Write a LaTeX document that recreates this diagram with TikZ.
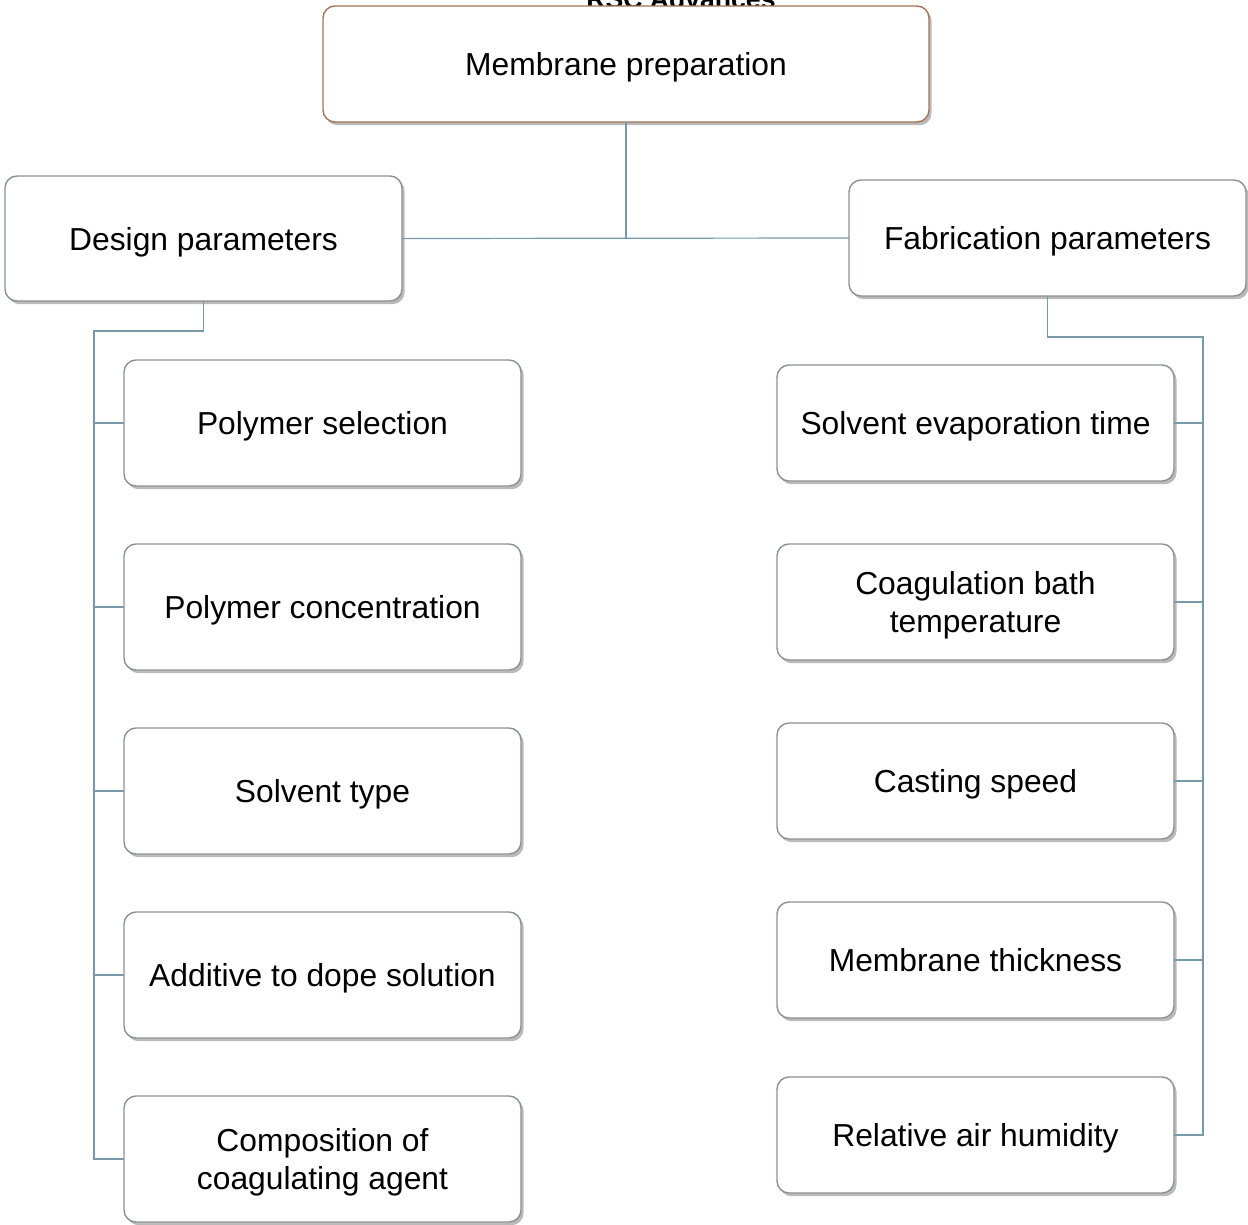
\documentclass[tikz,border=0pt]{standalone}
\usepackage{fontspec}
\setmainfont{Liberation Sans}
\usetikzlibrary{shadows}
\definecolor{linkcol}{RGB}{120,154,168}
\definecolor{boxcol}{RGB}{140,145,150}
\definecolor{topcol}{RGB}{165,115,90}
\tikzset{
  parbox/.style = {draw = boxcol, line width = 0.7pt, fill = white, rounded corners = 6pt,
    align = center, inner sep = 0pt, outer sep = 0pt, text depth = -0.5pt,
    minimum width = 198.5pt, minimum height = 63pt,
    drop shadow = {shadow xshift = 1.3pt, shadow yshift = -1.6pt, fill = black!45, opacity = .6},
    font = \fontsize{15.9}{19}\selectfont},
  link/.style = {draw = linkcol, line width = 0.6pt}
}
\begin{document}
\begin{tikzpicture}[x = 0.5pt, y = -0.5pt]
\useasboundingbox (0,0) rectangle (1248,1225);
\node[anchor = base, font = \bfseries\fontsize{13.3}{16}\selectfont] (journal) at (681,9) {RSC Advances};
\node[parbox, draw = topcol, minimum width = 303pt, minimum height = 58pt] (prep) at (626,64) {Membrane preparation};
\node[parbox, minimum height = 62.5pt] (design) at (203.5,238.5) {Design parameters};
\node[parbox, minimum height = 58pt] (fab) at (1047.5,238) {Fabrication parameters};
% design side
\foreach \nm/\yy/\txt in {polysel/423/Polymer selection, polycon/607/Polymer concentration,
    solv/791/Solvent type, addi/975/Additive to dope solution,
    comp/1159/{Composition of\\coagulating agent}}
  \node[parbox] (\nm) at (322.5,\yy) {\txt};
% fabrication side
\foreach \nm/\yy/\txt in {evap/423/Solvent evaporation time, bath/602/{Coagulation bath\\temperature},
    cast/781/Casting speed, thick/960/Membrane thickness, humid/1135/Relative air humidity}
  \node[parbox, minimum height = 58pt] (\nm) at (975.5,\yy) {\txt};
% connectors
\coordinate (hub) at (prep.south |- design.east);
\draw[link] (design.east) -- (fab.west);
\draw[link] (prep.south) -- (hub);
\coordinate (lbus) at (94,331);
\draw[link] (design.south) |- (lbus) |- (comp.west);
\foreach \nm in {polysel, polycon, solv, addi} \draw[link] (\nm.west) -- (\nm.west -| lbus);
\coordinate (rbus) at (1203,337);
\draw[link] (fab.south) |- (rbus) |- (humid.east);
\foreach \nm in {evap, bath, cast, thick} \draw[link] (\nm.east) -- (\nm.east -| rbus);
\end{tikzpicture}
\end{document}
